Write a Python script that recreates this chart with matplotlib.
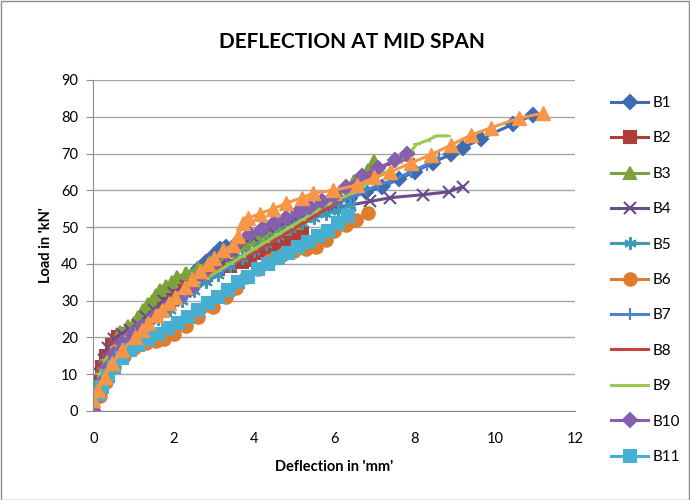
import matplotlib
matplotlib.use("Agg")
import matplotlib.pyplot as plt
from matplotlib.patches import Rectangle

plt.rcParams['font.family'] = ['Lato', 'DejaVu Sans']

# deflection (mm) / load (kN) for each beam
b1_x = [0, 0.1, 0.2, 0.35, 0.5, 0.7, 0.9, 1.1, 1.35, 1.6, 1.85, 2.1, 2.35, 2.6, 2.8, 3.0, 3.15, 3.3,
        3.6, 3.9, 4.2, 4.5, 4.85, 5.2, 5.6, 6.0, 6.4, 6.8, 7.2, 7.6, 8.0, 8.45, 8.9, 9.2, 9.65, 10.45, 10.95]
b1_y = [0, 4, 8, 12, 15, 18, 20, 22, 25, 28, 31, 33.5, 36, 38.5, 40.5, 42.5, 44, 44.5,
        46, 47.5, 49, 50.5, 52, 53.5, 55, 56.5, 58, 59.5, 61, 63, 65, 67.5, 69.8, 71.5, 74, 78, 80.5]

b2_x = [0, 0.05, 0.1, 0.2, 0.3, 0.45, 0.6, 0.8, 1.0, 1.2, 1.45, 1.7, 1.95, 2.2, 2.5, 2.8, 3.1,
        3.4, 3.7, 3.9, 4.2, 4.5, 4.77, 5.0, 5.2]
b2_y = [0, 4, 8, 12, 15, 18, 20, 21, 22, 24, 27, 29.5, 32, 34, 35.5, 37, 38.5,
        39.5, 40.5, 41, 43, 44.5, 46, 47, 48.3]

b3_x = [0, 0.05, 0.12, 0.2, 0.3, 0.45, 0.67, 0.85, 1.0, 1.12, 1.24, 1.35, 1.46, 1.56, 1.66, 1.8,
        1.95, 2.08, 2.3, 2.6, 2.9, 3.2, 3.5, 3.8, 4.1, 4.4, 4.7, 5.0, 5.3, 5.6, 5.9, 6.1, 6.3,
        6.5, 6.7, 6.85, 7.0]
b3_y = [0, 4, 8, 12, 15, 18, 21.5, 23, 24, 25.5, 27.5, 29, 30, 31.5, 33, 34,
        35, 36.4, 37.5, 39, 40.5, 42, 43.5, 45, 46.5, 48, 49.5, 51, 53, 55, 57, 59, 61,
        62.5, 64, 65.5, 68]

b4_x = [0, 0.05, 0.15, 0.25, 0.35, 0.5, 0.7, 0.9, 1.1, 1.3, 1.5, 1.75, 2.0, 2.3, 2.6, 2.9, 3.2,
        3.5, 3.95, 4.4, 4.9, 5.4, 5.9, 6.4, 6.9, 7.4, 8.2, 8.85, 9.2]
b4_y = [0, 5, 10, 14, 17, 19.5, 21, 22, 23.5, 25.5, 27.5, 30, 32, 34, 36, 38, 40,
        43, 47.5, 49.5, 51.5, 53.5, 55, 56, 57, 58, 58.8, 59.6, 61]

b5_x = [0, 0.1, 0.2, 0.35, 0.55, 0.8, 1.05, 1.3, 1.6, 1.9, 2.2, 2.5, 2.8, 3.1, 3.4, 3.7, 4.0,
        4.3, 4.6, 4.9, 5.2, 5.5, 5.8, 6.1, 6.4]
b5_y = [0, 5, 9, 13, 16, 18.5, 20.5, 22.5, 25, 27.5, 30, 32.5, 35, 37, 39.5, 41.5, 43.5,
        45.5, 47.5, 49.5, 51, 52.5, 53.5, 54.5, 56]

b6_x = [0, 0.15, 0.3, 0.5, 0.75, 1.0, 1.3, 1.55, 1.75, 2.0, 2.3, 2.6, 2.98, 3.3, 3.55, 3.8, 4.1,
        4.4, 4.7, 5.0, 5.3, 5.55, 5.8, 6.0, 6.3, 6.55, 6.85]
b6_y = [0, 4, 8, 12, 15, 17, 18.5, 19, 19.5, 21, 23, 25.5, 28.3, 31, 33.5, 36.4, 38.5,
        41, 42.5, 43.5, 44, 44.5, 46.5, 49, 50.5, 52, 53.8]

b7_x = [0, 0.1, 0.25, 0.4, 0.6, 0.85, 1.1, 1.4, 1.7, 2.0, 2.3, 2.6, 2.9, 3.2, 3.5, 3.8, 4.1,
        4.4, 4.7, 5.0, 5.3, 5.6, 5.9, 6.2, 6.5, 6.8, 7.1, 7.4, 7.9, 8.3, 8.6]
b7_y = [0, 5, 9, 13, 16, 19, 21, 23.5, 26, 28.5, 31, 33.5, 36, 38, 40.5, 42.5, 44.5,
        46.5, 48.5, 50.5, 52.5, 54, 55.5, 57, 58.5, 60, 61.5, 62.5, 65, 67, 69]

b8_x = [0, 0.05, 0.15, 0.3, 0.5, 0.75, 1.0, 1.3, 1.6, 1.9, 2.2, 2.5, 2.8, 3.1, 3.4, 3.7, 4.0,
        4.3, 4.6, 4.9, 5.2, 5.5, 5.8, 6.1, 6.4, 6.7, 7.0, 7.3, 7.6, 7.9]
b8_y = [0, 6, 11, 15, 18.5, 20.5, 22, 24.5, 27.5, 30, 32.5, 34.5, 36.5, 38.5, 40, 41.5, 43,
        45, 47, 49, 51, 53, 55, 57, 59.5, 62, 64.5, 67, 68, 68.5]

b9_x = [0, 0.05, 0.15, 0.3, 0.5, 0.75, 1.0, 1.3, 1.6, 1.9, 2.2, 2.5, 2.8, 3.1, 3.4, 3.7, 4.0,
        4.3, 4.6, 4.9, 5.2, 5.5, 5.8, 6.1, 6.4, 6.7, 7.0, 7.3, 7.6, 7.9, 8.05, 8.3, 8.55, 8.8]
b9_y = [0, 5, 10, 14, 17.5, 20, 22, 24.5, 27, 29.5, 32, 34, 36, 38, 40, 42, 44,
        46, 48, 50, 52, 54, 56, 57.5, 59, 61, 63, 65, 67.5, 70.5, 72.5, 73.5, 74.8, 74.8]

b10_x = [0, 0.1, 0.2, 0.35, 0.5, 0.7, 0.95, 1.2, 1.5, 1.8, 2.1, 2.4, 2.7, 3.0, 3.3, 3.6, 3.9,
         4.2, 4.5, 4.8, 5.1, 5.4, 5.7, 6.0, 6.3, 6.7, 7.1, 7.5, 7.8]
b10_y = [0, 4, 8, 12, 15.5, 18.5, 21, 23, 25.5, 28, 30.5, 33, 37, 40, 43, 46, 48,
         49.5, 51, 52.5, 54, 55.5, 57, 58.5, 61, 64, 66, 68.2, 70]

b11_x = [0, 0.1, 0.2, 0.35, 0.5, 0.7, 0.9, 1.1, 1.35, 1.6, 1.85, 2.1, 2.35, 2.6, 2.85, 3.1, 3.35,
         3.6, 3.85, 4.1, 4.35, 4.6, 4.85, 5.1, 5.35, 5.6, 5.85, 6.1, 6.35]
b11_y = [3.5, 4.5, 6.5, 9.5, 12, 14.5, 16.5, 18, 19.5, 21, 22.5, 24, 25.5, 27.5, 29.5, 31, 33,
         35, 36.5, 38.5, 40, 41.5, 43, 44.5, 46, 47.5, 49, 51, 53]

b12_x = [0, 0.12, 0.29, 0.46, 0.72, 1.04, 1.2, 1.37, 1.55, 1.71, 1.87, 2.03, 2.28, 2.45, 2.66,
         2.85, 3.0, 3.23, 3.48, 3.6, 3.73, 3.86, 4.15, 4.48, 4.8, 5.2, 5.47, 5.97, 6.57, 7.0,
         7.4, 7.9, 8.4, 8.9, 9.4, 9.9, 10.6, 11.2]
b12_y = [3, 5.7, 9.2, 13, 16.6, 20, 22, 24, 26, 27.5, 29.5, 31, 33.7, 36, 38,
         40, 41.5, 43.8, 45, 47.5, 51, 52.4, 53.7, 55, 56.5, 58, 59.2, 60, 61.4, 63.5,
         65, 67.4, 69.6, 72.3, 75, 77, 79.6, 81]

series = [
    ("B1", b1_x, b1_y, "#3d6cb0", "D", 7),
    ("B2", b2_x, b2_y, "#b23c3a", "s", 8),
    ("B3", b3_x, b3_y, "#7ba23c", "^", 9),
    ("B4", b4_x, b4_y, "#6a4b8c", "x", 9),
    ("B5", b5_x, b5_y, "#3a9cb6", (6, 2, 0), 9),
    ("B6", b6_x, b6_y, "#df7d2e", "o", 9),
    ("B7", b7_x, b7_y, "#4a84cc", "|", 9),
    ("B8", b8_x, b8_y, "#c4423f", "_", 6),
    ("B9", b9_x, b9_y, "#9cc852", "_", 6),
    ("B10", b10_x, b10_y, "#8660ad", "D", 7),
    ("B11", b11_x, b11_y, "#47b0d2", "s", 8),
]

fig = plt.figure(figsize=(6.9, 5.0), dpi=100)
ax = fig.add_axes([0.1355, 0.178, 0.698, 0.662])

handles = []
for name, xs, ys, col, mk, ms in series:
    h, = ax.plot(xs, ys, color=col, lw=2.2, marker=mk, markersize=ms,
                 markerfacecolor=col, markeredgecolor=col, markeredgewidth=1.5, label=name)
    handles.append(h)

# extra series drawn on top, not listed in the legend
ax.plot(b12_x, b12_y, color="#f79646", lw=2.2, marker="^", markersize=10,
        markerfacecolor="#f79646", markeredgecolor="#f79646")

ax.set_xlim(0, 12)
ax.set_ylim(0, 90)
ax.set_xticks(range(0, 13, 2))
ax.set_yticks(range(0, 91, 10))
ax.grid(axis="y", color="#a6a6a6", lw=1)
ax.set_axisbelow(True)
for s in ["top", "right"]:
    ax.spines[s].set_visible(False)
for s in ["left", "bottom"]:
    ax.spines[s].set_color("#8c8c8c")
ax.tick_params(axis="x", length=0, pad=15, labelsize=10.5, colors="#000000")
ax.tick_params(axis="y", length=5, color="#8c8c8c", pad=6, labelsize=10.5)

ax.set_xlabel("Deflection in 'mm'", fontweight="bold", fontsize=10.5, labelpad=10)
ax.set_ylabel("Load in 'kN'", fontweight="bold", fontsize=10.5, labelpad=6)
fig.text(0.51, 0.915, "DEFLECTION AT MID SPAN", ha="center", va="center",
         fontsize=15, fontweight="bold")

fig.legend(handles=handles, loc="upper left", bbox_to_anchor=(0.877, 0.82),
           frameon=False, fontsize=11, labelspacing=1.4, handlelength=2.4,
           handletextpad=0.3, borderaxespad=0)

fig.patches.append(Rectangle((0.001, 0.001), 0.998, 0.998, transform=fig.transFigure,
                             fill=False, edgecolor="#8c8c8c", lw=1))

fig.savefig("out.png", dpi=100)
